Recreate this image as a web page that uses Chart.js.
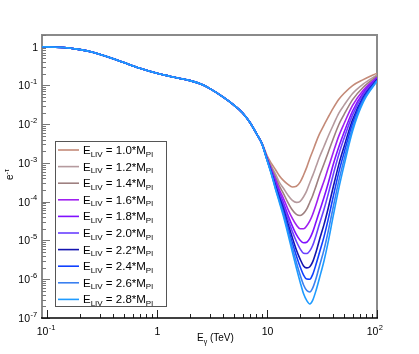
<!DOCTYPE html>
<html>
<head>
<meta charset="utf-8">
<script src="https://cdn.jsdelivr.net/npm/chart.js@4"></script>
<style>
  html, body { margin: 0; padding: 0; background: #fff; }
  canvas { display: block; }
</style>
</head>
<body>
<canvas id="chart" width="419" height="354"></canvas>
<script>
// shared part of every curve (below ~9 TeV the curves coincide)
const energyLow = [0.09, 0.1, 0.15, 0.2, 0.25, 0.3, 0.4, 0.5, 0.7, 1, 1.5, 2, 2.5, 3, 4, 5, 6, 7, 8];
const transLow = [0.995, 0.99, 0.94, 0.84, 0.74, 0.64, 0.49, 0.39, 0.277, 0.205, 0.158, 0.133, 0.109, 0.084, 0.050, 0.031, 0.0195, 0.0111, 0.0058];

// high energy part, one array per E_LIV
const energyHigh = [9, 10, 11, 12, 13, 14, 15.5, 17, 18.5, 20, 21.5, 23, 24.5, 26, 28, 30, 33, 36, 40, 45, 50, 60, 75, 100];
const eliv10 = [3.25e-3, 1.55e-3, 9.6e-4, 6.6e-4, 4.6e-4, 3.6e-4, 2.8e-4, 2.4e-4, 2.5e-4, 3.2e-4, 4.9e-4, 7.8e-4, 1.30e-3, 2.0e-3, 3.5e-3, 5.6e-3, 9.5e-3, 0.0152, 0.026, 0.044, 0.062, 0.099, 0.141, 0.207];
const eliv12 = [3.2e-3, 1.45e-3, 8.1e-4, 5.1e-4, 3.1e-4, 2.3e-4, 1.48e-4, 1.08e-4, 9.6e-5, 1.02e-4, 1.34e-4, 1.94e-4, 3.1e-4, 4.7e-4, 8.3e-4, 1.42e-3, 2.7e-3, 4.9e-3, 9.5e-3, 0.0193, 0.0305, 0.062, 0.109, 0.186];
const eliv14 = [3.17e-3, 1.38e-3, 7.3e-4, 4.2e-4, 2.5e-4, 1.70e-4, 9.5e-5, 6.1e-5, 4.7e-5, 4.4e-5, 5.0e-5, 6.5e-5, 9.7e-5, 1.43e-4, 2.6e-4, 4.7e-4, 9.5e-4, 1.87e-3, 4.2e-3, 9.8e-3, 0.0174, 0.043, 0.090, 0.174];
const eliv16 = [3.14e-3, 1.34e-3, 6.6e-4, 3.6e-4, 2.0e-4, 1.28e-4, 6.4e-5, 3.7e-5, 2.5e-5, 2.0e-5, 2.0e-5, 2.4e-5, 3.2e-5, 4.7e-5, 8.6e-5, 1.60e-4, 3.4e-4, 7.4e-4, 1.87e-3, 5.0e-3, 0.0101, 0.0305, 0.075, 0.162];
const eliv18 = [3.12e-3, 1.29e-3, 6.1e-4, 3.1e-4, 1.67e-4, 1.00e-4, 4.5e-5, 2.35e-5, 1.41e-5, 1.01e-5, 8.7e-6, 9.0e-6, 1.13e-5, 1.64e-5, 3.1e-5, 5.7e-5, 1.30e-4, 3.0e-4, 9.1e-4, 2.6e-3, 6.0e-3, 0.0219, 0.065, 0.154];
const eliv20 = [3.1e-3, 1.27e-3, 5.9e-4, 2.8e-4, 1.46e-4, 8.5e-5, 3.6e-5, 1.69e-5, 9.4e-6, 6.1e-6, 4.7e-6, 4.6e-6, 5.4e-6, 7.4e-6, 1.39e-5, 2.7e-5, 6.4e-5, 1.57e-4, 5.0e-4, 1.68e-3, 4.2e-3, 0.0174, 0.058, 0.148];
const eliv22 = [3.1e-3, 1.24e-3, 5.5e-4, 2.5e-4, 1.26e-4, 7.0e-5, 2.7e-5, 1.18e-5, 5.7e-6, 3.3e-6, 2.2e-6, 1.96e-6, 2.1e-6, 2.8e-6, 5.2e-6, 1.05e-5, 2.6e-5, 6.8e-5, 2.4e-4, 9.2e-4, 2.55e-3, 0.0130, 0.050, 0.142];
const eliv24 = [3.1e-3, 1.22e-3, 5.3e-4, 2.3e-4, 1.13e-4, 6.0e-5, 2.2e-5, 8.7e-6, 4.0e-6, 2.1e-6, 1.28e-6, 1.01e-6, 1.0e-6, 1.32e-6, 2.5e-6, 4.9e-6, 1.26e-5, 3.5e-5, 1.35e-4, 5.8e-4, 1.76e-3, 0.0105, 0.0455, 0.137];
const eliv26 = [3.1e-3, 1.19e-3, 5.1e-4, 2.1e-4, 1.01e-4, 5.2e-5, 1.76e-5, 6.5e-6, 2.7e-6, 1.28e-6, 7.1e-7, 5.1e-7, 4.7e-7, 5.9e-7, 1.08e-6, 2.2e-6, 5.8e-6, 1.72e-5, 7.3e-5, 3.5e-4, 1.18e-3, 8.2e-3, 0.041, 0.133];
const eliv28 = [3.1e-3, 1.19e-3, 4.9e-4, 2.0e-4, 9.3e-5, 4.5e-5, 1.47e-5, 5.0e-6, 1.95e-6, 8.5e-7, 4.2e-7, 2.8e-7, 2.3e-7, 2.85e-7, 5.3e-7, 1.08e-6, 3.0e-6, 9.2e-6, 4.3e-5, 2.25e-4, 8.3e-4, 6.7e-3, 0.037, 0.129];

const livSeries = [eliv10, eliv12, eliv14, eliv16, eliv18, eliv20, eliv22, eliv24, eliv26, eliv28];
const livLabels = ['1.0', '1.2', '1.4', '1.6', '1.8', '2.0', '2.2', '2.4', '2.6', '2.8'];
const livColors = ['#c48a78', '#b59a9e', '#9e8080', '#a020f0', '#8010ff', '#6a40ff', '#1414b0', '#1040ff', '#3a80f0', '#1e9bff'];

// tick labels: [base, exponent]
const xTickValues = [0.1, 1, 10, 100];
const xTickLabels = [['10', '-1'], ['1', ''], ['10', ''], ['10', '2']];
const yTickValues = [1, 0.1, 0.01, 1e-3, 1e-4, 1e-5, 1e-6, 1e-7];
const yTickLabels = [['1', ''], ['10', '-1'], ['10', '-2'], ['10', '-3'], ['10', '-4'], ['10', '-5'], ['10', '-6'], ['10', '-7']];

const FONT = '"Liberation Sans", Arial, Helvetica, sans-serif';
function font(px) { return px + 'px ' + FONT; }

// draw a piece of text and return where the next piece starts
function drawPart(ctx, text, x, y, size) {
    ctx.font = font(size);
    ctx.fillText(text, x, y);
    return x + ctx.measureText(text).width;
}

const rootStyle = {
    id: 'rootStyle',
    beforeDatasetsDraw(chart) {
        const ctx = chart.ctx;
        const a = chart.chartArea;
        const xs = chart.scales.x, ys = chart.scales.y;
        ctx.save();

        // frame
        ctx.strokeStyle = '#8a8a8a';
        ctx.lineWidth = 2;
        ctx.beginPath();
        ctx.moveTo(a.left, a.bottom);
        ctx.lineTo(a.left, a.top);
        ctx.lineTo(a.right, a.top);
        ctx.lineTo(a.right, a.bottom);
        ctx.stroke();

        // y ticks
        ctx.lineWidth = 1;
        ctx.strokeStyle = '#777';
        for (let d = -7; d <= 0; d++) {
            for (let m = 1; m <= 9; m++) {
                const v = m * Math.pow(10, d);
                if (v > ys.max) break;
                const py = Math.round(ys.getPixelForValue(v)) + 0.5;
                const len = m === 1 ? 8 : 4;
                ctx.beginPath();
                ctx.moveTo(a.left, py);
                ctx.lineTo(a.left + len, py);
                ctx.stroke();
            }
        }

        // x axis and ticks
        ctx.strokeStyle = '#222';
        for (let d = -1; d <= 2; d++) {
            for (let m = 1; m <= 9; m++) {
                const v = m * Math.pow(10, d);
                if (v < xs.min || v > xs.max) continue;
                const px = Math.round(xs.getPixelForValue(v)) + 0.5;
                const len = m === 1 ? 8 : 4;
                ctx.beginPath();
                ctx.moveTo(px, a.bottom);
                ctx.lineTo(px, a.bottom - len);
                ctx.stroke();
            }
        }
        ctx.lineWidth = 1.5;
        ctx.strokeStyle = '#000';
        ctx.beginPath();
        ctx.moveTo(a.left - 1, a.bottom);
        ctx.lineTo(a.right + 1, a.bottom);
        ctx.stroke();

        // tick labels
        ctx.fillStyle = '#000';
        ctx.textBaseline = 'middle';
        yTickValues.forEach((v, i) => {
            const py = ys.getPixelForValue(v);
            const [base, exp] = yTickLabels[i];
            ctx.font = font(10.5);
            if (!exp) {
                ctx.textAlign = 'right';
                ctx.fillText(base, 38, py + 1);
            } else {
                ctx.textAlign = 'right';
                ctx.fillText(base, 30, py + 1);
                ctx.textAlign = 'left';
                ctx.font = font(7.5);
                ctx.fillText(exp, 30.5, py - 3.5);
            }
        });
        xTickValues.forEach((v, i) => {
            const px = xs.getPixelForValue(v);
            const [base, exp] = xTickLabels[i];
            ctx.font = font(10.5);
            ctx.textAlign = 'center';
            if (!exp) {
                ctx.fillText(base, px + 0.5, 332);
            } else {
                const w = ctx.measureText(base).width;
                ctx.fillText(base, px - 4.5, 332);
                ctx.textAlign = 'left';
                ctx.font = font(7.5);
                ctx.fillText(exp, px - 4.5 + w / 2 + 0.5, 328);
            }
        });

        // axis titles
        ctx.textAlign = 'left';
        ctx.textBaseline = 'alphabetic';
        let x = drawPart(ctx, 'E', 197, 341, 10);
        x = drawPart(ctx, 'γ', x, 343.5, 7);
        drawPart(ctx, ' (TeV)', x, 341, 10);

        ctx.save();
        ctx.translate(13, 180);
        ctx.rotate(-Math.PI / 2);
        x = drawPart(ctx, 'e', 0, 0, 10);
        drawPart(ctx, '-τ', x, -4, 7);
        ctx.restore();

        ctx.restore();
    },
    afterDatasetsDraw(chart) {
        const ctx = chart.ctx;
        ctx.save();
        // legend box
        ctx.fillStyle = '#fff';
        ctx.fillRect(55.5, 141.5, 111, 165);
        ctx.strokeStyle = '#555';
        ctx.lineWidth = 1;
        ctx.strokeRect(55.5, 141.5, 111, 165);

        ctx.textAlign = 'left';
        ctx.textBaseline = 'alphabetic';
        livLabels.forEach((lab, i) => {
            const cy = 150 + i * 16.6;
            ctx.strokeStyle = livColors[i];
            ctx.lineWidth = 1.6;
            ctx.beginPath();
            ctx.moveTo(58, cy);
            ctx.lineTo(79, cy);
            ctx.stroke();
            ctx.fillStyle = '#000';
            let x = drawPart(ctx, 'E', 83, cy + 4, 11.5);
            x = drawPart(ctx, 'LIV', x, cy + 6.5, 8);
            x = drawPart(ctx, ' = ' + lab + '*M', x, cy + 4, 11.5);
            drawPart(ctx, 'Pl', x, cy + 6.5, 8);
        });
        ctx.restore();
    }
};

const datasets = livSeries.map((vals, i) => ({
    label: 'E_LIV = ' + livLabels[i] + '*M_Pl',
    data: energyLow.map((e, j) => ({ x: e, y: transLow[j] }))
        .concat(energyHigh.map((e, j) => ({ x: e, y: vals[j] }))),
    borderColor: livColors[i],
    order: livSeries.length - 1 - i
}));

new Chart(document.getElementById('chart').getContext('2d'), {
    type: 'line',
    data: { datasets },
    options: {
        responsive: false,
        animation: false,
        devicePixelRatio: 1,
        layout: { padding: { left: 42, right: 42, top: 35, bottom: 36 } },
        plugins: { legend: { display: false }, tooltip: { enabled: false } },
        elements: {
            point: { radius: 0 },
            line: { borderWidth: 1.6, cubicInterpolationMode: 'monotone', fill: false }
        },
        scales: {
            x: { type: 'logarithmic', min: 0.09, max: 100, display: false },
            y: { type: 'logarithmic', min: 1e-7, max: 2, display: false }
        }
    },
    plugins: [rootStyle]
});
</script>
</body>
</html>
